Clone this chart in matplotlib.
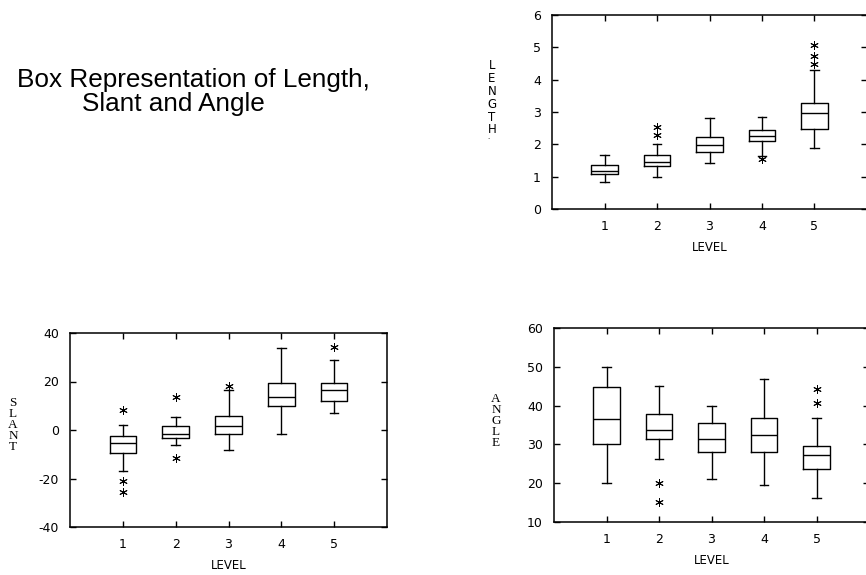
import matplotlib
matplotlib.use("Agg")
import matplotlib.pyplot as plt

plt.rcParams["axes.unicode_minus"] = False
plt.rcParams["font.family"] = ["DejaVu Sans"]

# --------------------------------------------------------------------------- #
#  data (five-number summaries + outliers per level)
# --------------------------------------------------------------------------- #

LEVELS = [1, 2, 3, 4, 5]

LENGTH_LO = [0.83, 0.99, 1.41, 1.65, 1.90]
LENGTH_Q1 = [1.08, 1.33, 1.76, 2.09, 2.47]
LENGTH_MED = [1.16, 1.44, 1.98, 2.27, 2.96]
LENGTH_Q3 = [1.37, 1.66, 2.23, 2.43, 3.28]
LENGTH_HI = [1.66, 2.02, 2.81, 2.84, 4.30]
LENGTH_OUT = [[], [2.29, 2.55], [], [1.55], [4.50, 4.73, 5.07]]

SLANT_LO = [-17.0, -6.0, -8.2, -1.6, 7.0]
SLANT_Q1 = [-9.3, -3.3, -1.8, 9.8, 12.0]
SLANT_MED = [-5.5, -1.8, 1.6, 13.7, 16.5]
SLANT_Q3 = [-2.6, 1.5, 5.9, 19.5, 19.5]
SLANT_HI = [2.2, 5.5, 16.6, 34.0, 28.7]
SLANT_OUT = [[8.1, -20.9, -25.6], [13.5, -11.5], [18.3], [], [34.2]]

ANGLE_LO = [20.0, 26.2, 21.1, 19.5, 16.1]
ANGLE_Q1 = [30.0, 31.4, 28.0, 28.1, 23.7]
ANGLE_MED = [36.5, 33.8, 31.5, 32.3, 27.2]
ANGLE_Q3 = [44.7, 37.9, 35.6, 36.8, 29.5]
ANGLE_HI = [49.9, 45.1, 40.0, 46.9, 36.8]
ANGLE_OUT = [[], [20.0, 15.2], [], [], [40.7, 44.3]]


def make_stats(lo, q1, med, q3, hi, out):
    return [
        dict(whislo=a, q1=b, med=c, q3=d, whishi=e, fliers=f)
        for a, b, c, d, e, f in zip(lo, q1, med, q3, hi, out)
    ]


def draw_box(ax, stats, ylim, yticks):
    line = dict(color="black", linewidth=1.0)
    ax.bxp(
        stats,
        positions=LEVELS,
        widths=0.5,
        capwidths=0.16,
        boxprops=line,
        whiskerprops=line,
        capprops=line,
        medianprops=line,
        flierprops=dict(marker=(6, 2, 0), markersize=6, markeredgewidth=0.7,
                        markeredgecolor="black", linestyle="none"),
        manage_ticks=False,
    )
    ax.set_xlim(0, 6)
    ax.set_ylim(*ylim)
    ax.set_xticks(LEVELS)
    ax.set_xticklabels([str(v) for v in LEVELS])
    ax.set_yticks(yticks)
    ax.set_yticklabels([str(v) for v in yticks])
    ax.tick_params(direction="in", top=True, right=True, length=4, width=1,
                   labelsize=9, pad=8)
    for sp in ax.spines.values():
        sp.set_linewidth(1.1)
    ax.set_xlabel("LEVEL", fontsize=8.5, labelpad=6)


W, H = 866, 575
fig = plt.figure(figsize=(W / 100, H / 100), dpi=100)


def px_axes(left, top, right, bottom):
    return fig.add_axes([left / W, 1 - bottom / H, (right - left) / W, (bottom - top) / H])


ax_len = px_axes(552, 15, 867, 209)
draw_box(ax_len, make_stats(LENGTH_LO, LENGTH_Q1, LENGTH_MED, LENGTH_Q3, LENGTH_HI, LENGTH_OUT),
         (0, 6), [0, 1, 2, 3, 4, 5, 6])

ax_sl = px_axes(70, 333, 387, 527)
draw_box(ax_sl, make_stats(SLANT_LO, SLANT_Q1, SLANT_MED, SLANT_Q3, SLANT_HI, SLANT_OUT),
         (-40, 40), [-40, -20, 0, 20, 40])

ax_an = px_axes(554, 328, 869, 522)
draw_box(ax_an, make_stats(ANGLE_LO, ANGLE_Q1, ANGLE_MED, ANGLE_Q3, ANGLE_HI, ANGLE_OUT),
         (10, 60), [10, 20, 30, 40, 50, 60])

# stacked vertical axis labels
fig.text(492 / W, 1 - 98 / H, "\n".join("LENGTH"), ha="center", va="center",
         fontsize=8.5, linespacing=0.98)
fig.text(488 / W, 1 - 137 / H, ".", ha="center", va="center", fontsize=5)
fig.text(13 / W, 1 - 425 / H, "\n".join("SLANT"), ha="center", va="center",
         fontsize=9.5, linespacing=0.88, family=["Liberation Serif", "DejaVu Serif"])
fig.text(496 / W, 1 - 421 / H, "\n".join("ANGLE"), ha="center", va="center",
         fontsize=9.5, linespacing=0.88, family=["Liberation Serif", "DejaVu Serif"])

# title block
fig.text(17 / W, 1 - 87 / H, "Box Representation of Length,", ha="left", va="baseline",
         fontsize=18.8, family=["Liberation Sans", "DejaVu Sans"])
fig.text(82 / W, 1 - 111 / H, "Slant and Angle", ha="left", va="baseline",
         fontsize=18.8, family=["Liberation Sans", "DejaVu Sans"])

fig.savefig("out.png", dpi=100)
